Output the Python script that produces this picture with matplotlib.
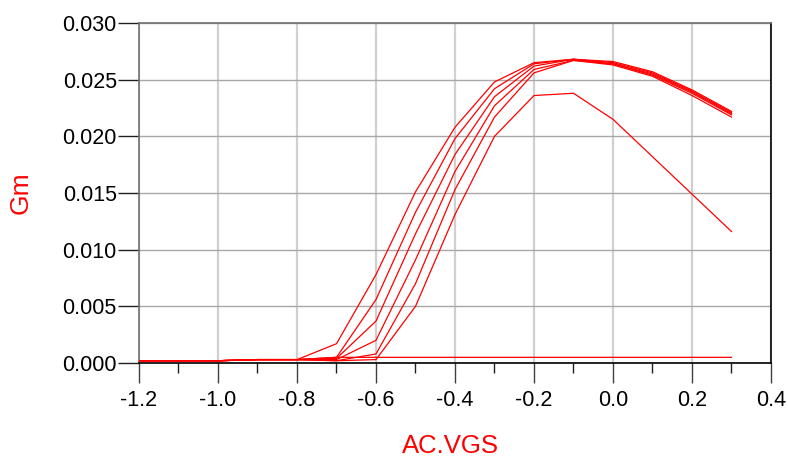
import numpy as np
import matplotlib
matplotlib.use('Agg')
import matplotlib.pyplot as plt
from matplotlib.ticker import MultipleLocator, FormatStrFormatter

plt.rcParams['font.family'] = ['Liberation Sans', 'DejaVu Sans']
plt.rcParams['axes.unicode_minus'] = False

# AC.VGS sweep points
vgs = [-1.2, -1.1, -1.0, -0.9, -0.8, -0.7, -0.6, -0.5, -0.4, -0.3, -0.2, -0.1, 0.0, 0.1, 0.2, 0.3]

# Gm traces
gm_a = [0.0002, 0.0002, 0.0002, 0.0003, 0.0003, 0.0017, 0.0078, 0.0151, 0.0208, 0.0248, 0.0265, 0.0268, 0.0266, 0.0257, 0.0241, 0.0222]
gm_b = [0.0002, 0.0002, 0.0002, 0.0003, 0.0003, 0.0005, 0.0056, 0.0133, 0.0198, 0.0242, 0.0264, 0.0268, 0.0265, 0.0256, 0.0240, 0.0221]
gm_c = [0.0002, 0.0002, 0.0002, 0.0003, 0.0003, 0.0004, 0.0037, 0.0114, 0.0184, 0.0235, 0.0262, 0.0268, 0.0264, 0.0255, 0.0239, 0.0220]
gm_d = [0.0002, 0.0002, 0.0002, 0.0003, 0.0003, 0.0003, 0.0020, 0.0091, 0.0169, 0.0227, 0.0259, 0.0267, 0.0264, 0.0254, 0.0238, 0.0219]
gm_e = [0.0002, 0.0002, 0.0002, 0.0003, 0.0003, 0.0002, 0.0008, 0.0070, 0.0153, 0.0217, 0.0256, 0.0267, 0.0263, 0.0253, 0.0236, 0.0217]
gm_f = [0.0002, 0.0002, 0.0002, 0.0003, 0.0003, 0.0002, 0.0003, 0.0050, 0.0131, 0.0200, 0.0236, 0.0238, 0.0215, 0.0182, 0.0149, 0.0116]
gm_g = [0.0002, 0.0002, 0.0002, 0.0003, 0.0003, 0.0005, 0.0005, 0.0005, 0.0005, 0.0005, 0.0005, 0.0005, 0.0005, 0.0005, 0.0005, 0.0005]

fig = plt.figure(figsize=(7.88, 4.61), dpi=100)
ax = fig.add_axes([139/788, 1-363/461, (771-139)/788, (363-23)/461])

for gm in [gm_g, gm_f, gm_e, gm_d, gm_c, gm_b, gm_a]:
    ax.plot(vgs, gm, color='red', lw=0.9, zorder=3)

ax.set_xlim(-1.2, 0.4)
ax.set_ylim(0.0, 0.030)
ax.xaxis.set_major_locator(MultipleLocator(0.2))
ax.xaxis.set_minor_locator(MultipleLocator(0.1))
ax.yaxis.set_major_locator(MultipleLocator(0.005))
ax.xaxis.set_major_formatter(FormatStrFormatter('%.1f'))
ax.yaxis.set_major_formatter(FormatStrFormatter('%.3f'))

ax.xaxis.grid(True, which='major', color='#d0d0d0', lw=1.6)
ax.yaxis.grid(True, which='major', color='#a8a8a8', lw=1.0)
ax.set_axisbelow(True)

ax.tick_params(axis='x', which='major', direction='out', length=14.5, width=1, color='#404040', labelsize=15.5, pad=5)
ax.tick_params(axis='x', which='minor', direction='out', length=7, width=1, color='#202020')
ax.tick_params(axis='y', which='major', direction='out', length=15, width=1, color='#202020', labelsize=15.5, pad=1)

ax.spines['left'].set_color('#707070')
ax.spines['top'].set_color('#707070')
ax.spines['bottom'].set_color('black')
ax.spines['right'].set_color('black')
for s in ax.spines.values():
    s.set_linewidth(1.2)

fig.text(450/788, 1-446/461, 'AC.VGS', color='red', fontsize=18.5, ha='center', va='center')
fig.text(21/788, 1-193/461, 'Gm', color='red', fontsize=19, ha='center', va='center', rotation=90)

fig.savefig('out.png', dpi=100)
